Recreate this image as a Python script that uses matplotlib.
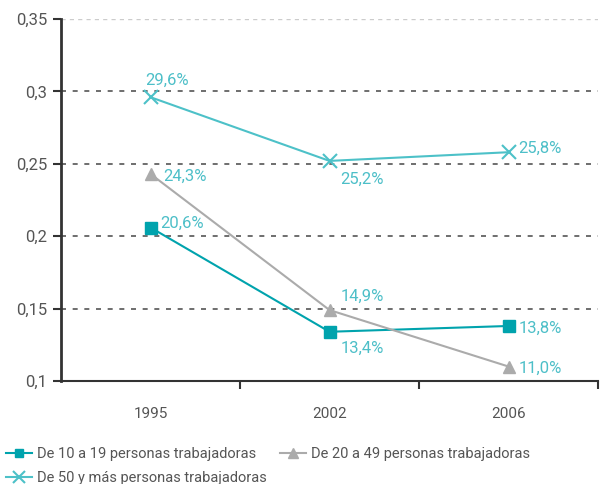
import matplotlib.pyplot as plt
import numpy as np

###Data
years = ['1995', '2002', '2006']
s_10_19 = [0.206, 0.134, 0.138]
s_20_49 = [0.243, 0.149, 0.110]
s_50_mas = [0.296, 0.252, 0.258]
lbl_10_19 = ['20,6%', '13,4%', '13,8%']
lbl_20_49 = ['24,3%', '14,9%', '11,0%']
lbl_50_mas = ['29,6%', '25,2%', '25,8%']
yticks = [0.1, 0.15, 0.2, 0.25, 0.3, 0.35]
ytick_labels = ['0,1', '0,15', '0,2', '0,25', '0,3', '0,35']

###Styles
c1 = '#00A3AD'
c2 = '#ABABAB'
c3 = '#4DC1C8'
txt_c = '#4DBFC8'
plt.rcParams['font.family'] = ['Roboto', 'DejaVu Sans']

fig = plt.figure(figsize=(6.12, 4.84), dpi=100)
ax = fig.add_axes([61/612, 1 - 381/484, (598-61)/612, (381-19)/484])

x = np.arange(len(years))

###Gridlines
for yv in yticks[1:-1]:
    ax.axhline(yv, color='#555555', linestyle=(0, (3, 4)), linewidth=1.2, zorder=1)
ax.axhline(0.35, color='#cccccc', linestyle=(0, (3, 3)), linewidth=1.0, zorder=1)

h1, = ax.plot(x, s_10_19, color=c1, marker='s', markersize=8, linewidth=1.5, zorder=3,
              label='De 10 a 19 personas trabajadoras')
h2, = ax.plot(x, s_20_49, color=c2, marker='^', markersize=9, linewidth=1.5, zorder=3,
              label='De 20 a 49 personas trabajadoras')
h3, = ax.plot(x, s_50_mas, color=c3, marker='x', markersize=10, markeredgewidth=1.5,
              linewidth=1.5, zorder=3, label='De 50 y más personas trabajadoras')

###Value labels (offsets in points)
offs_10_19 = [(7, 3), (8, -12), (7, -2)]
offs_20_49 = [(9, -2), (8, 10), (7, -1)]
offs_50_mas = [(-4, 12), (8, -13), (7, 3)]
for vals, lbls, offs in [(s_10_19, lbl_10_19, offs_10_19),
                         (s_20_49, lbl_20_49, offs_20_49),
                         (s_50_mas, lbl_50_mas, offs_50_mas)]:
    for xi, v, l, o in zip(x, vals, lbls, offs):
        ax.annotate(l, (xi, v), xytext=o, textcoords='offset points',
                    color=txt_c, fontsize=12, ha='left', va='center', zorder=4)

ax.set_xlim(-0.5, 2.5)
ax.set_ylim(0.1, 0.35)
ax.set_yticks(yticks)
ax.set_yticklabels(ytick_labels)
ax.set_xticks([0.5, 1.5, 2.5])
ax.set_xticklabels([])
ax.set_xticks(x, minor=True)
ax.set_xticklabels(years, minor=True)
ax.tick_params(axis='x', which='minor', length=0, pad=19, labelsize=11, labelcolor='#555555')
ax.tick_params(axis='x', which='major', length=6, width=1.5, color='#333333', direction='out')
ax.tick_params(axis='y', length=6, width=1.5, color='#333333', labelsize=12,
               labelcolor='#555555', pad=4)

for s in ['top', 'right']:
    ax.spines[s].set_visible(False)
ax.spines['left'].set_linewidth(2)
ax.spines['left'].set_color('#333333')
ax.spines['bottom'].set_linewidth(1.5)
ax.spines['bottom'].set_color('#333333')

###Legend filled row by row like the reference
leg = fig.legend([h1, h3, h2], [h1.get_label(), h3.get_label(), h2.get_label()],
                 loc='upper left', bbox_to_anchor=(0.0, 0.088),
                 ncol=2, frameon=False, fontsize=10.5, handlelength=1.8,
                 handletextpad=0.35, columnspacing=0.9, labelspacing=0.7,
                 labelcolor='#555555', borderaxespad=0.2, borderpad=0.2, markerscale=0.8)

fig.savefig('out.png', dpi=100)
